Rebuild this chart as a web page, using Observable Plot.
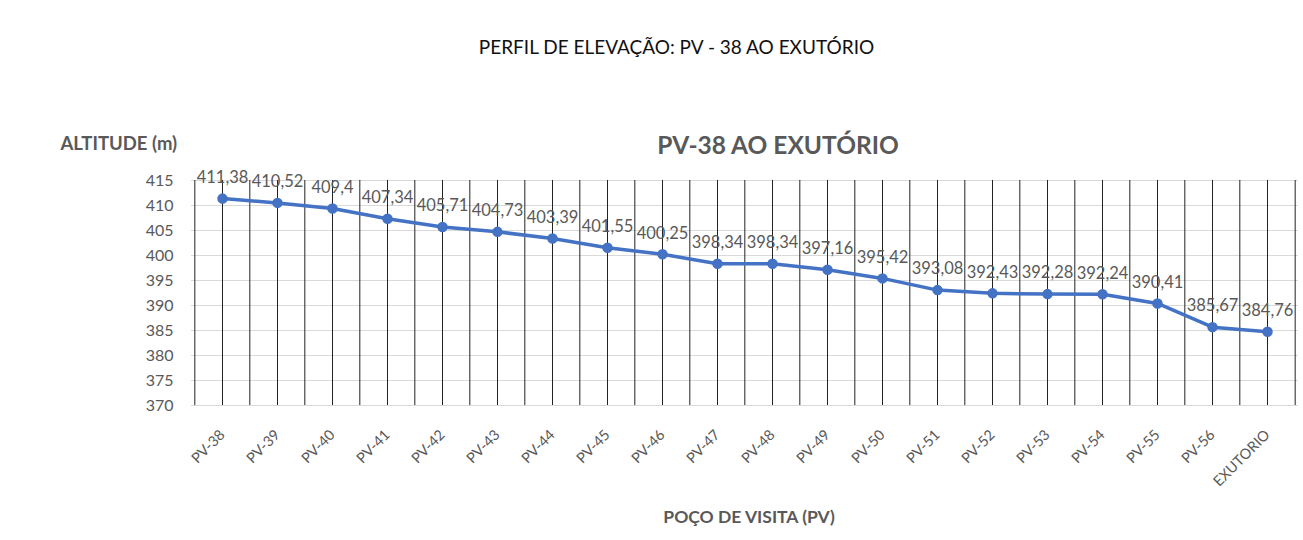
<!DOCTYPE html>
<html>
<head>
<meta charset="utf-8">
<script src="https://cdn.jsdelivr.net/npm/d3@7"></script>
<script src="https://cdn.jsdelivr.net/npm/@observablehq/plot@0.6"></script>
<style>
  body { margin: 0; background: #fff; font-family: Lato, "Open Sans", sans-serif; }
  #title { height: 80px; box-sizing: border-box; padding-top: 35px; text-align: center; font-size: 19px; color: #111; padding-left: 50px; }
  #chart svg { display: block; }
</style>
</head>
<body>
<div id="title">PERFIL DE ELEVAÇÃO: PV - 38 AO EXUTÓRIO</div>
<div id="chart"></div>
<script>
const categories = ["PV-38","PV-39","PV-40","PV-41","PV-42","PV-43","PV-44","PV-45","PV-46","PV-47","PV-48","PV-49","PV-50","PV-51","PV-52","PV-53","PV-54","PV-55","PV-56","EXUTORIO"];
const altitudes = [411.38,410.52,409.4,407.34,405.71,404.73,403.39,401.55,400.25,398.34,398.34,397.16,395.42,393.08,392.43,392.28,392.24,390.41,385.67,384.76];
const yTicks = [370,375,380,385,390,395,400,405,410,415];
const chartTitle = "PV-38 AO EXUTÓRIO";
const yTitle = "ALTITUDE (m)";
const xTitle = "POÇO DE VISITA (PV)";

const data = categories.map((c, i) => ({cat: c, alt: altitudes[i], label: String(altitudes[i]).replace(".", ",")}));

const W = 1303, mL = 191, mR = 5;
const step = (W - mL - mR) / categories.length;
const gray = "#595959";
const blue = "#4472C4";

const chart = Plot.plot({
  width: W,
  height: 460,
  marginLeft: mL,
  marginRight: mR,
  marginTop: 100,
  marginBottom: 135,
  style: {fontFamily: "Lato, 'Open Sans', sans-serif", color: gray, background: "#fff"},
  x: {type: "point", domain: categories, padding: 0.5, label: null, tickRotate: -45, tickSize: 0, tickPadding: 27},
  y: {domain: [370, 415], ticks: yTicks, label: null, tickSize: 0, tickPadding: 18},
  marks: [
    Plot.ruleY(yTicks, {stroke: "#d9d9d9", strokeWidth: 1.2}),
    Plot.ruleX(categories, {x: d => d, y1: 370, y2: 415, stroke: "#222", strokeWidth: 1}),
    Plot.ruleX(categories, {x: d => d, y1: 370, y2: 415, dx: -step / 2, stroke: "#222", strokeWidth: 1}),
    Plot.ruleX(categories.slice(-1), {x: d => d, y1: 370, y2: 415, dx: step / 2, stroke: "#222", strokeWidth: 1}),
    Plot.line(data, {x: "cat", y: "alt", stroke: blue, strokeWidth: 3.5, curve: "linear"}),
    Plot.dot(data, {x: "cat", y: "alt", r: 4.5, fill: blue, stroke: blue}),
    Plot.text(data, {x: "cat", y: "alt", text: "label", dy: -21, fontSize: 16.5, fill: gray}),
    Plot.text([chartTitle], {frameAnchor: "top", dx: 33, dy: -44, fontSize: 24.5, fontWeight: "bold", fill: gray}),
    Plot.text([yTitle], {frameAnchor: "top-left", textAnchor: "start", dx: -131, dy: -44, fontSize: 18.5, fontWeight: "bold", fill: gray}),
    Plot.text([xTitle], {frameAnchor: "bottom", dx: 4, dy: 117, fontSize: 17.5, fontWeight: "bold", fill: gray})
  ]
});
chart.querySelectorAll("g[aria-label='y-axis tick label']").forEach(e => e.setAttribute("font-size", "16"));
chart.querySelectorAll("g[aria-label='x-axis tick label']").forEach(e => e.setAttribute("font-size", "14.5"));
document.getElementById("chart").appendChild(chart);
</script>
</body>
</html>
